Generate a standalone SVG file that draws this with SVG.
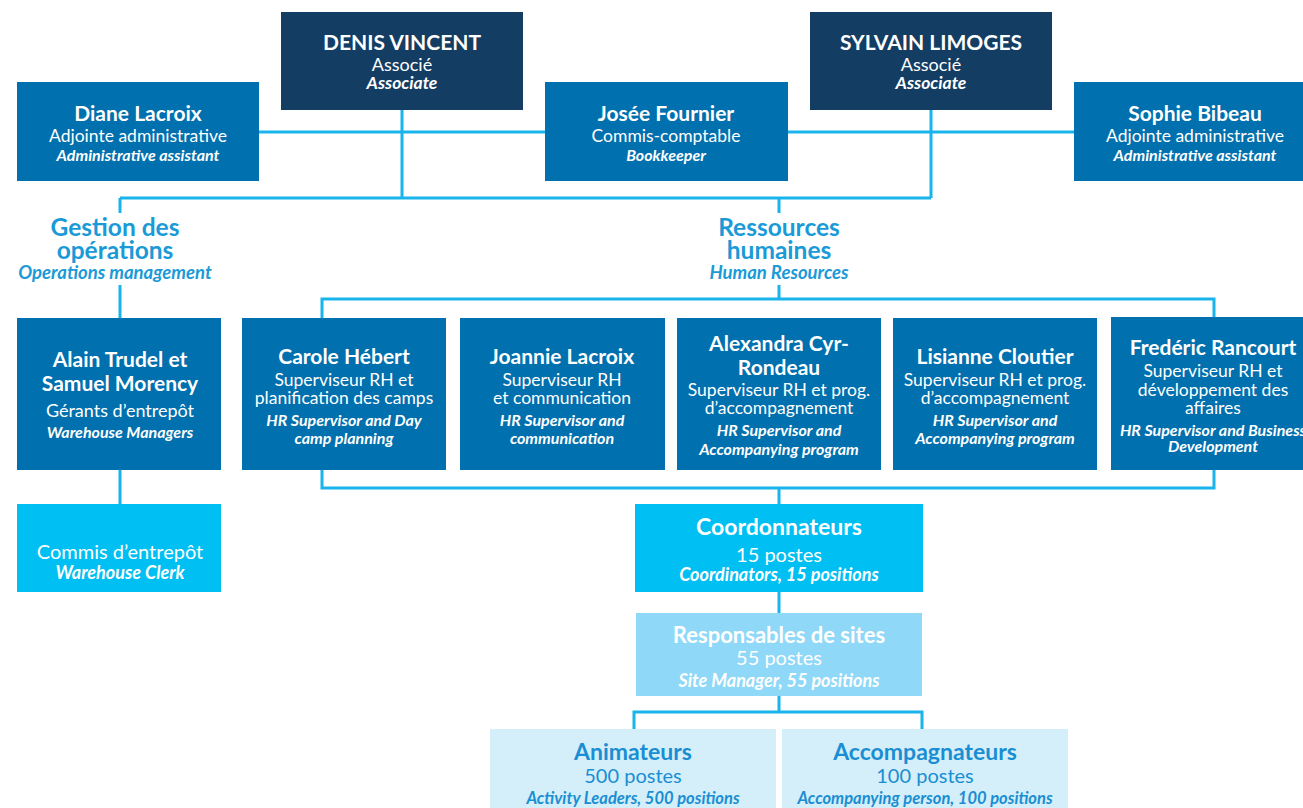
<svg xmlns="http://www.w3.org/2000/svg" width="1303" height="808" viewBox="0 0 1303 808">
<style>
text{font-family:Lato,"Noto Sans",sans-serif;text-anchor:middle;fill:#fff}
.n{font-weight:700;font-size:21px}
.r{font-size:17.5px}
.i{font-style:italic;font-weight:700;font-size:16px}
.navy{fill:#133d63}
.blue{fill:#0070ae}
.cyan{fill:#00bff2}
.light{fill:#8fd8f7}
.pale{fill:#d4eefa}
.t{font-weight:700;font-size:24.5px;fill:#1a9ad7}
.ti{font-style:italic;font-weight:700;font-size:18.5px;fill:#1a9ad7}
.d{fill:#1a8ed2}
.big{font-size:23px}
.mid{font-size:20px}
.c{fill:none;stroke:#1ab4ec;stroke-width:3}
</style>
<g id="connectors" class="c">
<path d="M259 132H545M788 132H1074"/>
<path d="M402 110V198M931 110V198M120 198H931M120 198V213M779 198V213"/>
<path d="M120 285V318M120 470V504"/>
<path d="M779 285V299M322 318V299H1214V318"/>
<path d="M322 470V488H1214V470M779 488V504"/>
<path d="M779 592V613M779 696V712M634 729V712H922V729"/>
</g>
<g id="denis"><rect class="navy" x="281" y="12" width="242" height="98"/>
<text x="402" y="50" class="n">DENIS VINCENT</text><text x="402" y="71" class="r" style="font-size:18px">Associé</text><text x="402" y="89" class="i" style="font-size:17.5px">Associate</text></g>
<g id="sylvain"><rect class="navy" x="810" y="12" width="242" height="98"/>
<text x="931" y="50" class="n">SYLVAIN LIMOGES</text><text x="931" y="71" class="r" style="font-size:18px">Associé</text><text x="931" y="89" class="i" style="font-size:17.5px">Associate</text></g>
<g id="diane"><rect class="blue" x="17" y="82" width="242" height="99"/>
<text x="138" y="121" class="n">Diane Lacroix</text><text x="138" y="142" class="r">Adjointe administrative</text><text x="138" y="161" class="i">Administrative assistant</text></g>
<g id="josee"><rect class="blue" x="545" y="82" width="243" height="99"/>
<text x="666" y="121" class="n">Josée Fournier</text><text x="666" y="142" class="r">Commis-comptable</text><text x="666" y="161" class="i">Bookkeeper</text></g>
<g id="sophie"><rect class="blue" x="1074" y="82" width="242" height="99"/>
<text x="1195" y="121" class="n">Sophie Bibeau</text><text x="1195" y="142" class="r">Adjointe administrative</text><text x="1195" y="161" class="i">Administrative assistant</text></g>
<g id="gestion"><text x="115" y="236" class="t">Gestion des</text><text x="115" y="259" class="t">opérations</text><text x="115" y="279" class="ti">Operations management</text></g>
<g id="rh"><text x="779" y="236" class="t">Ressources</text><text x="779" y="259" class="t">humaines</text><text x="779" y="279" class="ti">Human Resources</text></g>
<g id="alain"><rect class="blue" x="17" y="318" width="204" height="152"/>
<text x="120" y="367" class="n">Alain Trudel et</text><text x="120" y="391" class="n">Samuel Morency</text><text x="120" y="417" class="r" style="font-size:18px">Gérants d’entrepôt</text><text x="120" y="438" class="i">Warehouse Managers</text></g>
<g id="commis"><rect class="cyan" x="17" y="504" width="204" height="88"/>
<text x="120" y="559" class="r mid">Commis d’entrepôt</text><text x="120" y="579" class="i" style="font-size:18px">Warehouse Clerk</text></g>
<g id="carole"><rect class="blue" x="242" y="318" width="204" height="152"/>
<text x="344" y="364" class="n">Carole Hébert</text><text x="344" y="386" class="r">Superviseur RH et</text><text x="344" y="404" class="r">planification des camps</text><text x="344" y="426" class="i">HR Supervisor and Day</text><text x="344" y="444" class="i">camp planning</text></g>
<g id="joannie"><rect class="blue" x="460" y="318" width="205" height="152"/>
<text x="562" y="364" class="n">Joannie Lacroix</text><text x="562" y="386" class="r">Superviseur RH</text><text x="562" y="404" class="r">et communication</text><text x="562" y="426" class="i">HR Supervisor and</text><text x="562" y="444" class="i">communication</text></g>
<g id="alexandra"><rect class="blue" x="677" y="318" width="204" height="152"/>
<text x="779" y="351" class="n">Alexandra Cyr-</text><text x="779" y="375" class="n">Rondeau</text><text x="779" y="396" class="r">Superviseur RH et prog.</text><text x="779" y="414" class="r">d’accompagnement</text><text x="779" y="436" class="i">HR Supervisor and</text><text x="779" y="455" class="i">Accompanying program</text></g>
<g id="lisianne"><rect class="blue" x="893" y="318" width="204" height="152"/>
<text x="995" y="364" class="n">Lisianne Cloutier</text><text x="995" y="386" class="r">Superviseur RH et prog.</text><text x="995" y="404" class="r">d’accompagnement</text><text x="995" y="426" class="i">HR Supervisor and</text><text x="995" y="444" class="i">Accompanying program</text></g>
<g id="frederic"><rect class="blue" x="1111" y="317" width="206" height="153"/>
<text x="1213" y="355" class="n">Fredéric Rancourt</text><text x="1213" y="377" class="r">Superviseur RH et</text><text x="1213" y="396" class="r">développement des</text><text x="1213" y="414" class="r">affaires</text><text x="1213" y="436" class="i">HR Supervisor and Business</text><text x="1213" y="452" class="i">Development</text></g>
<g id="coord"><rect class="cyan" x="635" y="504" width="288" height="88"/>
<text x="779" y="535" class="n big">Coordonnateurs</text><text x="779" y="562" class="r mid">15 postes</text><text x="779" y="581" class="i" style="font-size:18px">Coordinators, 15 positions</text></g>
<g id="resp"><rect class="light" x="636" y="613" width="286" height="83"/>
<text x="779" y="643" class="n" style="font-size:22px">Responsables de sites</text><text x="779" y="665" class="r mid">55 postes</text><text x="779" y="687" class="i" style="font-size:18px">Site Manager, 55 positions</text></g>
<g id="animateurs"><rect class="pale" x="490" y="729" width="286" height="79"/>
<text x="633" y="760" class="n d big">Animateurs</text><text x="633" y="783" class="r d mid">500 postes</text><text x="633" y="804" class="i d" style="font-size:16.5px">Activity Leaders, 500 positions</text></g>
<g id="accomp"><rect class="pale" x="782" y="729" width="286" height="79"/>
<text x="925" y="760" class="n d big">Accompagnateurs</text><text x="925" y="783" class="r d mid">100 postes</text><text x="925" y="804" class="i d" style="font-size:16.5px">Accompanying person, 100 positions</text></g>
</svg>
